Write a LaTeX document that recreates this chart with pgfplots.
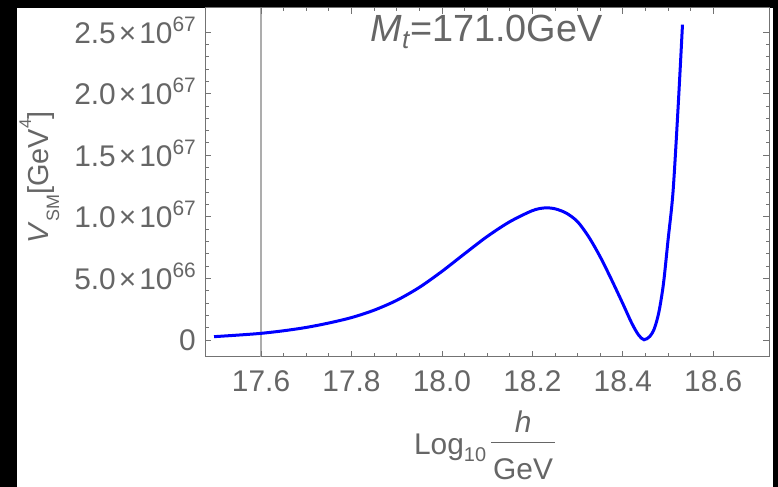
\documentclass[border=0pt]{standalone}
\usepackage{fontspec}
\setmainfont{Liberation Sans}
\usepackage{pgfplots}
\pgfplotsset{compat=1.18}
\definecolor{txt}{gray}{0.4}
\definecolor{frm}{gray}{0.45}
\definecolor{vline}{gray}{0.68}
\newcommand{\sci}[2]{#1\hspace{3bp}×\hspace{3bp}10\raisebox{12bp}{\fontsize{21}{21}\selectfont #2}}
\begin{document}
\begin{tikzpicture}[x=1bp,y=1bp]
\useasboundingbox (0,0) rectangle (778,487);
\fill[black] (0,0) rectangle (778,487);
\fill[white] (17,0) rectangle (773,479);
\begin{axis}[
  at={(205bp,130bp)}, anchor=south west,
  scale only axis, width=564.3bp, height=349bp,
  xmin=17.476, xmax=18.724, ymin=-1.38e66, ymax=2.695e67,
  axis line style={frm, line width=1bp},
  tick style={frm, line width=0.8bp},
  major tick length=6bp, minor tick length=3.5bp,
  xtick={17.6,17.8,18.0,18.2,18.4,18.6},
  xticklabels={17.6,17.8,18.0,18.2,18.4,18.6},
  minor x tick num=3,
  ytick={0,5e66,1e67,1.5e67,2e67,2.5e67},
  yticklabels={0,\sci{5.0}{66},\sci{1.0}{67},\sci{1.5}{67},\sci{2.0}{67},\sci{2.5}{67}},
  minor y tick num=4,
  scaled y ticks=false,
  xticklabel style={font=\fontsize{30}{36}\selectfont, text=txt, anchor=base, yshift=-35bp, inner sep=0pt},
  yticklabel style={font=\fontsize{30}{36}\selectfont, text=txt, anchor=base east, xshift=-9bp, yshift=-11bp, inner sep=0pt},
  extra x ticks={17.6}, extra x tick labels={},
  extra x tick style={grid=major, major grid style={vline, line width=1.6bp}},
  xlabel={Log\raisebox{-7bp}{\fontsize{20}{20}\selectfont 10}\hspace{5bp}\makebox[64bp][l]{\rlap{\raisebox{22bp}{\makebox[64bp]{\itshape h}}}\rlap{\raisebox{11.5bp}{\rule{64bp}{1.5bp}}}\rlap{\raisebox{-25bp}{\makebox[64bp]{GeV}}}}},
  xlabel style={at={(axis description cs:0.4955,-0.2808)}, anchor=base, font=\fontsize{30}{36}\selectfont, text=txt, inner sep=0pt},
  ylabel={\textit{V}\raisebox{-11bp}{\fontsize{18}{18}\selectfont SM}[GeV\raisebox{17bp}{\fontsize{17}{17}\selectfont 4}]},
  ylabel style={at={(axis description cs:-0.278,0.515)}, anchor=base, font=\fontsize{29}{36}\selectfont, text=txt, inner sep=0pt},
]
\addplot[blue, line width=3bp, smooth] coordinates {
(17.496,2.7e65) (17.55,4.0e65) (17.6,5.4e65) (17.65,7.5e65) (17.7,1.02e66)
(17.75,1.38e66) (17.8,1.82e66) (17.85,2.42e66) (17.9,3.22e66) (17.95,4.27e66)
(18.0,5.57e66) (18.05,7.0e66) (18.1,8.4e66) (18.15,9.6e66) (18.2,1.05e67)
(18.227,1.072e67) (18.25,1.065e67) (18.275,1.03e67) (18.3,9.6e66)
(18.325,8.35e66) (18.35,6.75e66) (18.375,4.9e66) (18.4,2.95e66)
(18.42,1.35e66) (18.435,4.0e65) (18.447,2e64) (18.46,3.0e65)
(18.47,9.5e65) (18.48,2.3e66) (18.49,4.6e66) (18.5,8.1e66)
(18.511,1.2e67) (18.522,1.87e67) (18.532,2.56e67)
};
\node[anchor=base, text=txt, font=\fontsize{38}{40}\selectfont, inner sep=0pt] at (axis description cs:0.499,0.9034) {\textit{M}\raisebox{-7bp}{\fontsize{26}{26}\selectfont\textit{t}}=171.0GeV};
\end{axis}
\end{tikzpicture}
\end{document}
